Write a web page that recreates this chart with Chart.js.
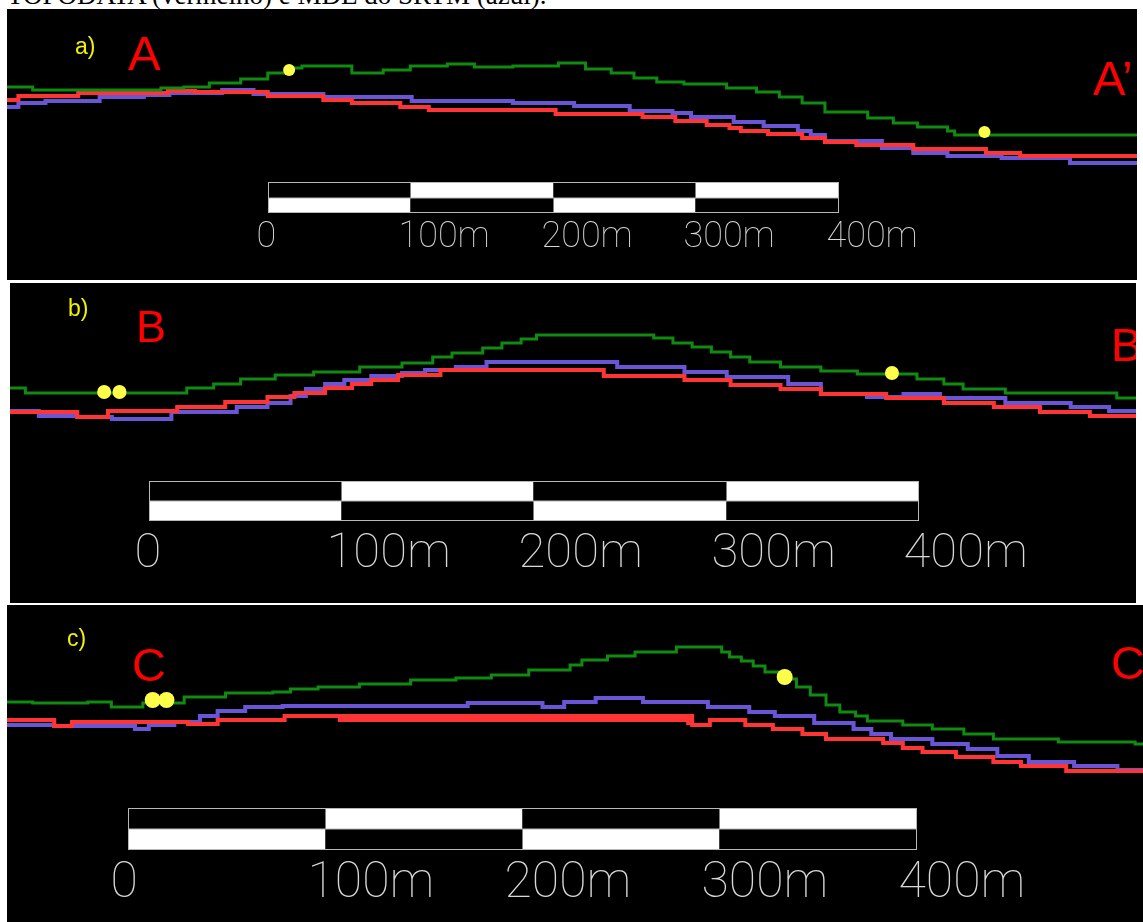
<!DOCTYPE html>
<html>
<head>
<meta charset="utf-8">
<script src="https://cdn.jsdelivr.net/npm/chart.js@4.4.1/dist/chart.umd.min.js"></script>
<style>
  html, body { margin: 0; padding: 0; background: #fff; }
  body { position: relative; width: 1143px; height: 922px; overflow: hidden; }
  .caption { position: absolute; left: 7px; top: -18px; font: 27px/1 "Liberation Serif", serif; color: #000; white-space: nowrap; }
  .panel { position: absolute; background: #000; overflow: hidden; }
  .panel canvas { position: absolute; left: 0; top: 0; }
  .tag { position: absolute; font-family: "Liberation Sans", Arial, sans-serif; line-height: 1; white-space: nowrap; }
  .tag.small { color: #f2f200; font-size: 23px; }
  .tag.big { color: #ff0000; }
</style>
</head>
<body>
<div class="caption">TOPODATA (vermelho) e MDE do SRTM (azul).</div>

<div class="panel" style="left:7px;top:9px;width:1130px;height:271px">
  <canvas id="chartA" width="1130" height="271"></canvas>
  <div class="tag small" style="left:68px;top:26px">a)</div>
  <div class="tag big" style="left:121px;top:20px;font-size:49px">A</div>
  <div class="tag big" style="left:1086px;top:45px;font-size:49px">A’</div>
</div>

<div class="panel" style="left:10px;top:283px;width:1126px;height:320px">
  <canvas id="chartB" width="1126" height="320"></canvas>
  <div class="tag small" style="left:58px;top:14px">b)</div>
  <div class="tag big" style="left:126px;top:21px;font-size:45px">B</div>
  <div class="tag big" style="left:1101px;top:38px;font-size:47px">B’</div>
</div>

<div class="panel" style="left:7px;top:605px;width:1136px;height:317px">
  <canvas id="chartC" width="1136" height="317"></canvas>
  <div class="tag small" style="left:60px;top:22px">c)</div>
  <div class="tag big" style="left:125px;top:36px;font-size:47px">C</div>
  <div class="tag big" style="left:1104px;top:34px;font-size:47px">C’</div>
</div>

<script>
// distances along the profile (m) and relative elevations
// profile A-A'
const aGreenDist = [0, 18, 108, 124, 142, 164, 183, 198, 207, 242, 264, 283, 309, 328, 355, 387, 406, 424, 440, 456, 475, 505, 526, 542, 558, 574, 604, 622, 639, 660, 665, 793];
const aGreenElev = [193, 190, 192, 193, 197, 201, 207, 212, 214, 207, 210, 214, 216, 213, 214, 217, 211, 207, 202, 198, 196, 192, 188, 183, 177, 168, 162, 157, 153, 149, 145, 145];
const aRedDist = [0, 8, 50, 113, 132, 183, 222, 242, 276, 296, 385, 446, 469, 491, 507, 515, 534, 558, 574, 596, 636, 687, 711, 793];
const aRedElev = [180, 184, 187, 189, 188, 184, 180, 177, 173, 170, 166, 163, 159, 155, 152, 149, 146, 142, 138, 135, 131, 127, 124, 124];
const aBlueDist = [0, 8, 27, 65, 96, 114, 151, 173, 222, 284, 355, 398, 437, 467, 480, 510, 531, 555, 564, 574, 614, 636, 660, 698, 746, 793];
const aBlueElev = [173, 177, 179, 183, 185, 187, 190, 186, 183, 179, 177, 174, 169, 167, 163, 158, 154, 149, 145, 139, 132, 127, 124, 122, 117, 117];
const aDotDist = [198, 686];
const aDotElev = [210, 148];

// profile B-B'
const bGreenDist = [0, 8, 92, 106, 120, 138, 158, 182, 204, 220, 230, 246, 256, 266, 274, 335, 345, 355, 365, 375, 385, 401, 422, 441, 472, 486, 496, 518, 576, 586];
const bGreenElev = [215, 210, 215, 219, 224, 228, 231, 236, 240, 246, 250, 255, 260, 264, 268, 265, 260, 256, 251, 246, 241, 236, 232, 229, 224, 219, 214, 210, 205, 205];
const bRedDist = [0, 35, 51, 87, 112, 134, 148, 164, 178, 188, 202, 224, 309, 351, 375, 401, 422, 456, 486, 512, 536, 562, 586];
const bRedElev = [191, 186, 192, 196, 201, 206, 210, 215, 219, 223, 228, 233, 227, 223, 218, 214, 209, 205, 200, 196, 191, 187, 187];
const bBlueDist = [0, 15, 35, 53, 84, 118, 134, 146, 154, 164, 174, 188, 204, 216, 232, 248, 316, 351, 373, 405, 422, 446, 465, 484, 518, 552, 572, 586];
const bBlueElev = [192, 187, 186, 184, 191, 196, 200, 207, 214, 219, 223, 227, 230, 233, 236, 241, 236, 231, 226, 219, 209, 206, 209, 205, 200, 196, 192, 192];
const bDotDist = [49, 57, 459];
const bDotElev = [211, 211, 230];

// profile C-C'
const cGreenDist = [0, 13, 41, 53, 69, 90, 111, 135, 144, 158, 179, 205, 228, 246, 265, 286, 292, 305, 319, 340, 363, 367, 373, 379, 385, 392, 401, 408, 416, 423, 431, 437, 455, 470, 486, 501, 534, 573, 577];
const cGreenElev = [220, 219, 220, 215, 219, 225, 229, 230, 233, 235, 238, 242, 244, 247, 252, 257, 262, 266, 270, 275, 270, 265, 261, 256, 250, 243, 235, 227, 217, 210, 206, 201, 197, 193, 188, 183, 180, 178, 178];
const cRedDist = [0, 24, 33, 92, 107, 141, 168, 347, 357, 375, 389, 404, 416, 445, 455, 465, 482, 501, 515, 538, 577];
const cRedElev = [202, 196, 200, 198, 202, 206, 204, 197, 202, 197, 193, 188, 183, 179, 174, 170, 165, 160, 156, 151, 151];
const cBlueDist = [0, 24, 65, 72, 85, 98, 107, 121, 140, 234, 272, 283, 299, 323, 356, 377, 390, 410, 430, 439, 449, 470, 488, 503, 519, 542, 564, 577];
const cBlueElev = [197, 196, 193, 197, 200, 206, 211, 215, 216, 219, 215, 220, 224, 220, 215, 210, 206, 199, 193, 188, 183, 178, 173, 166, 160, 156, 152, 152];
const cDotDist = [74, 81, 395];
const cDotElev = [222, 222, 245];

// scale bar
const scaleTicks = [0, 100, 200, 300, 400];
const scaleLabels = ["0", "100m", "200m", "300m", "400m"];

const GREEN = "#118a11";
const RED = "#ff3535";
const BLUE = "#6a55d6";
const YELLOW = "#ffff4a";

function pts(xs, ys) {
  return xs.map((x, i) => ({ x: x, y: ys[i] }));
}

// draws the black/white scale bar and its labels using the chart scales
const scaleBar = {
  id: "scaleBar",
  afterDatasetsDraw(chart, args, opts) {
    const { ctx, scales: { x, y } } = chart;
    const top = Math.round(y.getPixelForValue(opts.top)) + 0.5;
    const bot = Math.round(y.getPixelForValue(opts.bottom)) + 0.5;
    const mid = Math.round((top + bot) / 2);
    const px = scaleTicks.map((t) => Math.round(x.getPixelForValue(opts.start + t)) + 0.5);
    ctx.save();
    for (let i = 0; i < px.length - 1; i++) {
      ctx.fillStyle = i % 2 ? "#fff" : "#000";
      ctx.fillRect(px[i], top, px[i + 1] - px[i], mid - top);
      ctx.fillStyle = i % 2 ? "#000" : "#fff";
      ctx.fillRect(px[i], mid, px[i + 1] - px[i], bot - mid);
    }
    ctx.strokeStyle = "#b8b8b8";
    ctx.lineWidth = 1;
    ctx.strokeRect(px[0], top, px[px.length - 1] - px[0], bot - top);
    ctx.beginPath();
    ctx.moveTo(px[0], mid);
    ctx.lineTo(px[px.length - 1], mid);
    ctx.stroke();

    ctx.fillStyle = "#d8d8d8";
    ctx.font = "100 " + opts.fontSize + "px Roboto, 'DejaVu Sans', sans-serif";
    ctx.textAlign = "left";
    ctx.textBaseline = "alphabetic";
    const base = y.getPixelForValue(opts.baseline);
    scaleLabels.forEach((lab, i) => {
      ctx.fillText(lab, px[i] - opts.shift, base);
    });
    ctx.restore();
  }
};

function makeChart(id, length, height, green, red, blue, dots, bar, redThick) {
  new Chart(document.getElementById(id), {
    type: "line",
    data: {
      datasets: [
        { data: dots, showLine: false, pointRadius: bar.dotSize, pointBackgroundColor: YELLOW, pointBorderWidth: 0, order: 0 },
        { data: green, borderColor: GREEN, borderWidth: 3, stepped: true, pointRadius: 0, order: 1 },
        {
          data: red, borderColor: RED, borderWidth: 4, stepped: true, pointRadius: 0, order: 2,
          segment: {
            borderWidth: (c) => (redThick && c.p0.parsed.x >= redThick[0] && c.p0.parsed.x < redThick[1] ? 8 : 4)
          }
        },
        { data: blue, borderColor: BLUE, borderWidth: 4, stepped: true, pointRadius: 0, order: 3 }
      ]
    },
    options: {
      responsive: false,
      animation: false,
      events: [],
      layout: { padding: 0, autoPadding: false },
      scales: {
        x: { type: "linear", min: 0, max: length, display: false },
        y: { type: "linear", min: 0, max: height, display: false }
      },
      plugins: {
        legend: { display: false },
        tooltip: { enabled: false },
        scaleBar: bar
      }
    },
    plugins: [scaleBar]
  });
}

makeChart("chartA", 793, 271,
  pts(aGreenDist, aGreenElev), pts(aRedDist, aRedElev), pts(aBlueDist, aBlueElev), pts(aDotDist, aDotElev),
  { start: 183, top: 98, bottom: 68, baseline: 33, fontSize: 36, shift: 12, dotSize: 6 }, null);

makeChart("chartB", 586, 320,
  pts(bGreenDist, bGreenElev), pts(bRedDist, bRedElev), pts(bBlueDist, bBlueElev), pts(bDotDist, bDotElev),
  { start: 72.4, top: 122, bottom: 83, baseline: 36, fontSize: 49, shift: 15, dotSize: 7 }, null);

makeChart("chartC", 577, 317,
  pts(cGreenDist, cGreenElev), pts(cRedDist, cRedElev), pts(cBlueDist, cBlueElev), pts(cDotDist, cDotElev),
  { start: 61.5, top: 114, bottom: 73, baseline: 25, fontSize: 50, shift: 18, dotSize: 8 }, [168, 347]);
</script>
</body>
</html>
